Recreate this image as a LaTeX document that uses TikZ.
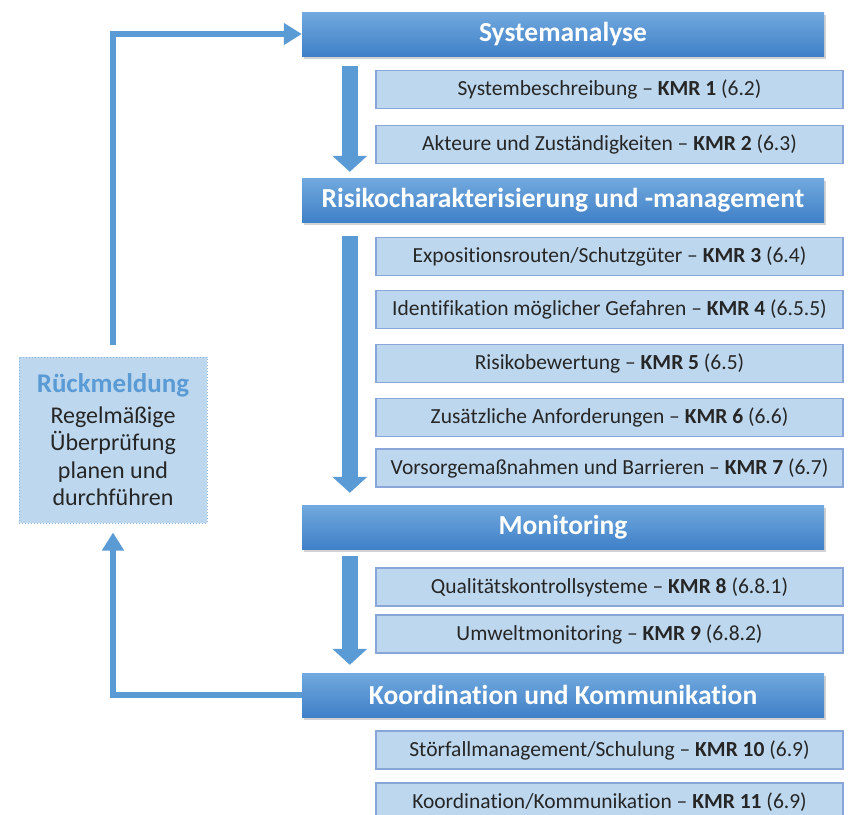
\documentclass[tikz,border=0pt]{standalone}
\usepackage{fontspec}
\setmainfont[Ligatures=NoCommon]{Carlito}
\usetikzlibrary{arrows.meta,shadows}
\definecolor{hdtop}{HTML}{72A9DE}
\definecolor{hdbot}{HTML}{3F80C8}
\definecolor{subfill}{HTML}{BDD7EE}
\definecolor{subline}{HTML}{8AA6D8}
\definecolor{rueckfill}{HTML}{BDD7EE}
\definecolor{arrowblue}{HTML}{5B9BD5}
\definecolor{textgray}{HTML}{262626}
\tikzset{
  header/.style={minimum width=522pt, minimum height=44pt, inner sep=0pt,
    top color=hdtop, bottom color=hdbot, text=white,
    font=\fontsize{27.5}{30}\selectfont\bfseries,
    drop shadow={shadow xshift=1.5pt, shadow yshift=-2.5pt, opacity=0.35}},
  subbox/.style={minimum width=467pt, minimum height=38pt, inner sep=0pt,
    fill=subfill, draw=subline, line width=1.2pt, text=textgray,
    font=\fontsize{21.5}{24}\selectfont},
  rueckbox/.style={minimum width=188pt, minimum height=166pt, inner sep=0pt,
    fill=rueckfill, draw=arrowblue!70, dotted, line width=1pt, text=textgray,
    align=center, font=\fontsize{24}{27.5}\selectfont},
  downarrow/.style={arrowblue, line width=16pt, -{Triangle[width=34pt,length=16pt]}},
  fbarrow/.style={arrowblue, line width=6.5pt, -{Triangle[width=21pt,length=18pt]}},
}
\begin{document}
\begin{tikzpicture}[x=1pt,y=-1pt]
\clip (0,0) rectangle (854,814);
\fill[white] (0,0) rectangle (854,814);
% main steps
\node[header] (sys) at (563,34) {Systemanalyse};
\node[header] (risk) at (563,200) {Risikocharakterisierung und -management};
\node[header] (moni) at (563,527) {Monitoring};
\node[header] (koord) at (563,695) {Koordination und Kommunikation};
% KMR boxes
\node[subbox] (kmr1) at (609.5,89.5) {Systembeschreibung -- \textbf{KMR 1} (6.2)};
\node[subbox] (kmr2) at (609.5,144.5) {Akteure und Zuständigkeiten -- \textbf{KMR 2} (6.3)};
\node[subbox] (kmr3) at (609.5,256.5) {Expositionsrouten/Schutzgüter -- \textbf{KMR 3} (6.4)};
\node[subbox] (kmr4) at (609.5,309.5) {Identifikation möglicher Gefahren -- \textbf{KMR 4} (6.5.5)};
\node[subbox] (kmr5) at (609.5,363.5) {Risikobewertung -- \textbf{KMR 5} (6.5)};
\node[subbox] (kmr6) at (609.5,417.5) {Zusätzliche Anforderungen -- \textbf{KMR 6} (6.6)};
\node[subbox] (kmr7) at (609.5,468) {Vorsorgemaßnahmen und Barrieren -- \textbf{KMR 7} (6.7)};
\node[subbox] (kmr8) at (609.5,587) {Qualitätskontrollsysteme -- \textbf{KMR 8} (6.8.1)};
\node[subbox] (kmr9) at (609.5,634) {Umweltmonitoring -- \textbf{KMR 9} (6.8.2)};
\node[subbox] (kmr10) at (609.5,750) {Störfallmanagement/Schulung -- \textbf{KMR 10} (6.9)};
\node[subbox] (kmr11) at (609.5,802) {Koordination/Kommunikation -- \textbf{KMR 11} (6.9)};
% feedback
\node[rueckbox] (rueck) at (113,440) {{\color{arrowblue}\fontsize{27}{30}\selectfont\bfseries Rückmeldung}\\[3pt]
  Regelmäßige\\ Überprüfung\\ planen und\\ durchführen};
% arrows
\draw[downarrow] ([xshift=48pt,yshift=-10pt]sys.south west) -- ([xshift=48pt,yshift=6pt]risk.north west);
\draw[downarrow] ([xshift=48pt,yshift=-14pt]risk.south west) -- ([xshift=48pt,yshift=12pt]moni.north west);
\draw[downarrow] ([xshift=48pt,yshift=-7pt]moni.south west) -- ([xshift=48pt,yshift=8pt]koord.north west);
\draw[fbarrow] (koord.west) -| ([yshift=-9pt]rueck.south);
\draw[fbarrow] ([yshift=12pt]rueck.north) |- (sys.west);
\end{tikzpicture}
\end{document}
